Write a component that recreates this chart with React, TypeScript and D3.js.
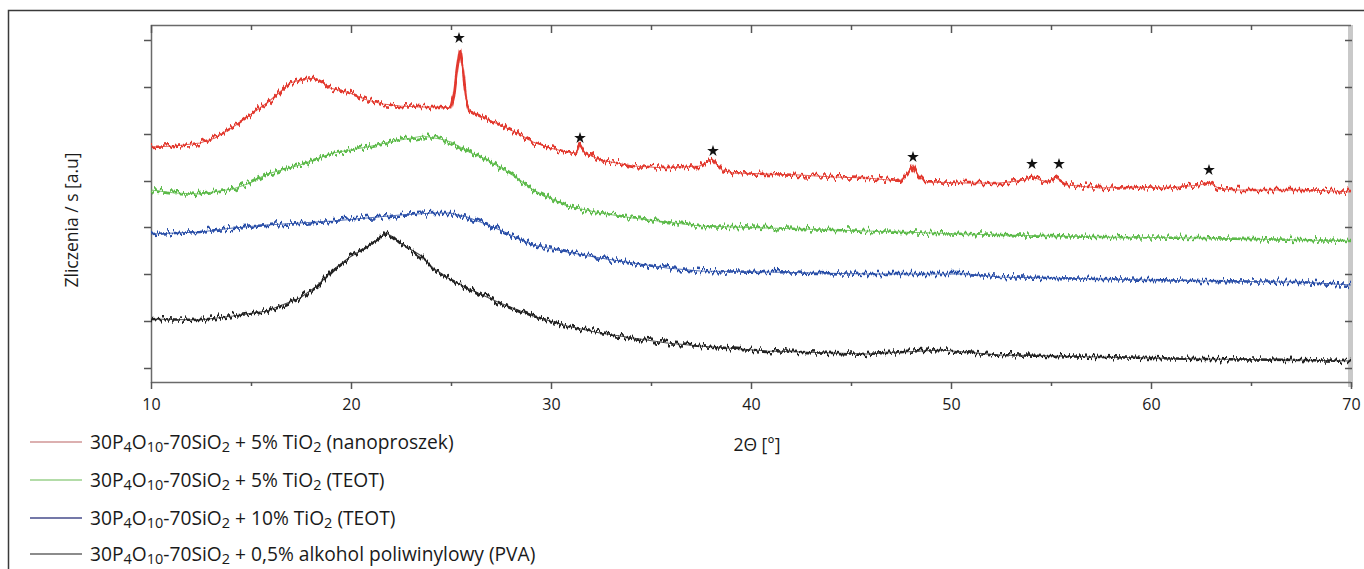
import React, { useEffect, useRef } from "react";
import * as d3 from "d3";

// 2-theta [deg], counts [a.u.]
const redSeries: [number, number][] = [
  [10.0, 235], [11.2, 236], [12.45, 239], [13.2, 244], [14.1, 255], [14.95, 267],
  [15.8, 279], [16.45, 290], [16.95, 299], [17.45, 302], [18.1, 304], [18.55, 300],
  [18.95, 294], [19.95, 289], [20.8, 282], [21.6, 278], [22.45, 276], [23.45, 275],
  [24.45, 275], [25.0, 274], [25.15, 287], [25.3, 312], [25.45, 332], [25.6, 312],
  [25.75, 284], [25.9, 272], [26.45, 266], [27.45, 257], [28.3, 249], [29.1, 240],
  [29.95, 234], [30.8, 230], [31.25, 229], [31.45, 237], [31.65, 230], [32.45, 222],
  [34.1, 216], [35.8, 214], [37.45, 216], [37.8, 220], [38.05, 223], [38.3, 217],
  [38.55, 212], [39.1, 209], [40.8, 208], [42.45, 207], [44.1, 205], [45.8, 204],
  [47.45, 201], [47.85, 209], [48.1, 217], [48.35, 207], [48.7, 200], [50.8, 199],
  [52.45, 199], [53.7, 202], [54.05, 206], [54.45, 202], [54.85, 200], [55.2, 205],
  [55.8, 197], [57.45, 194], [59.1, 195], [60.8, 194], [62.45, 197], [62.9, 200],
  [63.35, 194], [64.1, 192], [65.8, 192], [67.45, 192], [69.1, 191], [70.0, 190],
];

const greenSeries: [number, number][] = [
  [10.0, 192], [11.2, 189], [12.45, 188], [14.1, 193], [14.95, 199], [15.8, 208],
  [17.45, 217], [19.1, 229], [20.8, 235], [22.45, 242], [23.6, 246], [24.45, 243],
  [25.0, 240], [25.8, 231], [26.6, 224], [27.45, 215], [28.3, 204], [29.1, 192],
  [29.95, 184], [30.8, 176], [32.45, 169], [34.1, 164], [35.8, 160], [37.45, 156],
  [40.8, 154], [45.8, 151], [49.1, 149], [52.45, 147], [57.45, 145], [62.45, 144],
  [67.45, 142], [70.0, 141],
];

const blueSeries: [number, number][] = [
  [10.0, 148], [12.45, 150], [14.1, 154], [15.8, 157], [17.45, 159], [19.1, 161],
  [20.8, 164], [22.45, 167], [24.1, 169], [24.95, 169], [25.8, 165], [26.6, 159],
  [27.45, 152], [28.3, 144], [29.1, 137], [30.8, 130], [32.45, 124], [34.1, 119],
  [35.8, 114], [37.45, 111], [40.8, 110], [45.8, 108], [50.8, 108], [52.45, 105],
  [57.45, 103], [62.45, 101], [67.45, 100], [70.0, 97],
];

const blackSeries: [number, number][] = [
  [10.0, 63], [12.45, 62], [14.1, 66], [15.8, 71], [17.45, 84], [18.3, 96],
  [19.1, 112], [19.95, 125], [20.8, 135], [21.45, 144], [21.75, 149], [22.1, 145],
  [22.45, 139], [23.45, 127], [24.1, 114], [25.0, 102], [25.8, 94], [27.45, 79],
  [29.1, 66], [30.8, 56], [32.45, 49], [34.1, 44], [35.8, 39], [37.45, 36],
  [40.8, 31], [45.8, 28], [49.45, 32], [52.45, 27], [57.45, 25], [62.45, 23],
  [67.45, 22], [70.0, 21],
];

// TiO2 anatase reflections marked with a star
const peakMarks: [number, number][] = [
  [25.4, 344], [31.45, 244], [38.1, 231], [48.1, 225], [54.05, 218], [55.4, 218], [62.9, 212],
];

const xTicks = [10, 20, 30, 40, 50, 60, 70];
const xMinorTicks = [15, 25, 35, 45, 55, 65];
const yTicks = [14, 61, 108, 155, 201, 248, 295, 342];

const legendLabels = [
  "30P_{4}O_{10}-70SiO_{2} + 5% TiO_{2} (nanoproszek)",
  "30P_{4}O_{10}-70SiO_{2} + 5% TiO_{2} (TEOT)",
  "30P_{4}O_{10}-70SiO_{2} + 10% TiO_{2} (TEOT)",
  "30P_{4}O_{10}-70SiO_{2} + 0,5% alkohol poliwinylowy (PVA)",
];

const lineColors = ["#e2392e", "#5cba4a", "#2b4fa8", "#222222"];
const legendColors = ["#dcb0b0", "#b3dca8", "#7478a8", "#8c8c8c"];

const W = 1364;
const H = 569;
const FONT = "'Open Sans', 'Noto Sans', sans-serif";

function splitSub(label: string) {
  const parts: { t: string; sub: boolean }[] = [];
  const re = /_\{([^}]*)\}/g;
  let last = 0;
  let m: RegExpExecArray | null;
  while ((m = re.exec(label)) !== null) {
    if (m.index > last) parts.push({ t: label.slice(last, m.index), sub: false });
    parts.push({ t: m[1], sub: true });
    last = m.index + m[0].length;
  }
  if (last < label.length) parts.push({ t: label.slice(last), sub: false });
  return parts;
}

export default function App() {
  const ref = useRef<SVGSVGElement | null>(null);

  useEffect(() => {
    const svg = d3.select(ref.current);
    svg.selectAll("*").remove();

    const x = d3.scaleLinear().domain([10, 70]).range([151, 1351]);
    const y = d3.scaleLinear().domain([0, 357]).range([382, 25]);

    // detector noise look: a rendering filter only (vertical wobble), data stay as read
    const defs = svg.append("defs");
    const f = defs.append("filter")
      .attr("id", "jitter")
      .attr("filterUnits", "userSpaceOnUse")
      .attr("x", 140).attr("y", 15)
      .attr("width", 1220).attr("height", 380);
    f.append("feTurbulence")
      .attr("type", "fractalNoise")
      .attr("baseFrequency", "0.4 0.025")
      .attr("numOctaves", 2)
      .attr("seed", 5)
      .attr("result", "noise");
    f.append("feColorMatrix")
      .attr("in", "noise")
      .attr("type", "matrix")
      .attr("values", "1 0 0 0 0  0 0 0 0 0.5  0 0 0 0 0  0 0 0 0 1")
      .attr("result", "dispMap");
    f.append("feDisplacementMap")
      .attr("in", "SourceGraphic")
      .attr("in2", "dispMap")
      .attr("scale", 13)
      .attr("xChannelSelector", "G")
      .attr("yChannelSelector", "R");

    // outer frame (left + top edge of the figure box)
    svg.append("path")
      .attr("d", `M8.5,${H} V10.5 H${W}`)
      .attr("fill", "none")
      .attr("stroke", "#3a3a3a")
      .attr("stroke-width", 1.5);

    // grey right edge of the plot
    svg.append("rect")
      .attr("x", 1348).attr("y", 25)
      .attr("width", 5).attr("height", 362)
      .attr("fill", "#c9c9c9");

    // plot box
    svg.append("path")
      .attr("d", `M${x(70)},25.5 H151.5 V382.5 H${x(70)}`)
      .attr("fill", "none")
      .attr("stroke", "#6a6a6a")
      .attr("stroke-width", 1.5);

    const styleAxis = (g: any) => {
      g.select(".domain").remove();
      g.selectAll(".tick line").attr("stroke", "#555").attr("stroke-width", 1.5);
    };

    // bottom axis
    svg.append("g")
      .attr("transform", "translate(0,382)")
      .call(d3.axisBottom(x).tickValues(xTicks).tickSize(7).tickPadding(10).tickFormat(d3.format("d")) as any)
      .call(styleAxis)
      .call((g: any) => g.selectAll("text")
        .attr("font-family", FONT).attr("font-size", 16).attr("fill", "#1a1a1a"));
    svg.append("g")
      .attr("transform", "translate(0,382)")
      .call(d3.axisBottom(x).tickValues(xMinorTicks).tickSize(4).tickFormat(() => "") as any)
      .call(styleAxis);

    // top ticks pointing inwards
    svg.append("g")
      .attr("transform", "translate(0,25)")
      .call(d3.axisBottom(x).tickValues(xTicks.slice(0, -1)).tickSize(8).tickFormat(() => "") as any)
      .call(styleAxis);
    svg.append("g")
      .attr("transform", "translate(0,25)")
      .call(d3.axisBottom(x).tickValues(xMinorTicks).tickSize(5).tickFormat(() => "") as any)
      .call(styleAxis);

    // left ticks (outwards) and right ticks (inwards)
    svg.append("g")
      .attr("transform", "translate(151,0)")
      .call(d3.axisLeft(y).tickValues(yTicks).tickSize(7).tickFormat(() => "") as any)
      .call(styleAxis);
    svg.append("g")
      .attr("transform", "translate(1352,0)")
      .call(d3.axisLeft(y).tickValues(yTicks).tickSize(7).tickFormat(() => "") as any)
      .call(styleAxis);

    // series: thin clean trace + wobbly trace on top
    const line = d3.line<[number, number]>()
      .x((d) => x(d[0]))
      .y((d) => y(d[1]));

    const series = [redSeries, greenSeries, blueSeries, blackSeries];
    svg.append("g")
      .selectAll("path")
      .data(series)
      .join("path")
      .attr("d", (d) => line(d))
      .attr("fill", "none")
      .attr("stroke", (_d, i) => lineColors[i])
      .attr("stroke-width", 1.1)
      .attr("stroke-opacity", 0.8);
    svg.append("g")
      .attr("filter", "url(#jitter)")
      .selectAll("path")
      .data(series)
      .join("path")
      .attr("d", (d) => line(d))
      .attr("fill", "none")
      .attr("stroke", (_d, i) => lineColors[i])
      .attr("stroke-width", 2.6)
      .attr("stroke-linejoin", "round");

    // stars over the peaks
    svg.append("g")
      .selectAll("path")
      .data(peakMarks)
      .join("path")
      .attr("transform", (d) => `translate(${x(d[0])},${y(d[1])})`)
      .attr("d", d3.symbol().type(d3.symbolStar).size(42)())
      .attr("fill", "#111");

    // axis titles
    svg.append("text")
      .attr("transform", "translate(78,220) rotate(-90)")
      .attr("text-anchor", "middle")
      .attr("font-family", FONT)
      .attr("font-size", 17.5)
      .attr("fill", "#1a1a1a")
      .text("Zliczenia / s [a.u]");

    svg.append("text")
      .attr("x", 757).attr("y", 451)
      .attr("text-anchor", "middle")
      .attr("font-family", FONT)
      .attr("font-size", 17.5)
      .attr("fill", "#1a1a1a")
      .text("2Θ [°]");

    // legend
    const legend = svg.append("g");
    const rowsY = [442, 480, 518, 554];
    legendLabels.forEach((label, i) => {
      const row = legend.append("g").attr("transform", `translate(0,${rowsY[i]})`);
      row.append("line")
        .attr("x1", 30).attr("x2", 82)
        .attr("y1", 0).attr("y2", 0)
        .attr("stroke", legendColors[i])
        .attr("stroke-width", 2);
      const t = row.append("text")
        .attr("x", 90).attr("y", 6.5)
        .attr("font-family", FONT)
        .attr("font-size", 19.2)
        .attr("fill", "#1a1a1a");
      splitSub(label).forEach((p) => {
        const ts = t.append("tspan").text(p.t);
        if (p.sub) ts.attr("font-size", 14.5).attr("baseline-shift", "-3");
      });
    });
  }, []);

  return (
    <svg
      ref={ref}
      width={W}
      height={H}
      style={{ position: "absolute", left: 0, top: 0, background: "#fff" }}
    />
  );
}
